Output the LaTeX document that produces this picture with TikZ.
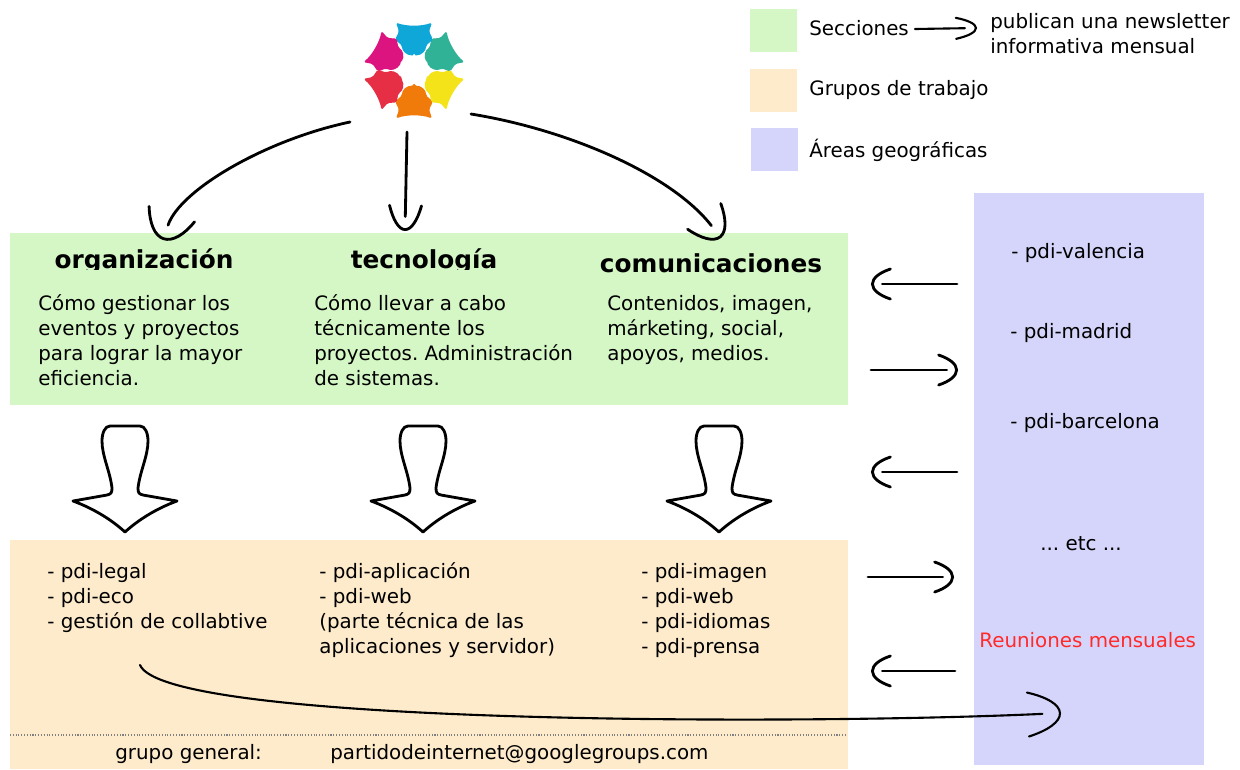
\documentclass[tikz,border=0pt]{standalone}
\usepackage{fontspec}
\setmainfont{DejaVu Sans}
\frenchspacing
\usetikzlibrary{arrows.meta}
\definecolor{seccion}{HTML}{D4F7C5}
\definecolor{grupo}{HTML}{FDEBCB}
\definecolor{area}{HTML}{D5D5FB}
\definecolor{reunion}{HTML}{FF2A2A}
\pgfdeclarearrow{
	name=Punta,
	parameters={\the\pgfarrowlength,\the\pgfarrowwidth,\the\pgfarrowlinewidth},
	setup code={
		\pgfarrowssettipend{0.5\pgfarrowlinewidth}
		\pgfarrowssetlineend{-0.55\pgfarrowlength}
		\pgfarrowssetbackend{-\pgfarrowlength}
		\pgfarrowssavethe\pgfarrowlength
		\pgfarrowssavethe\pgfarrowwidth
		\pgfarrowssavethe\pgfarrowlinewidth
	},
	drawing code={
		\pgfsetlinewidth{\pgfarrowlinewidth}
		\pgfsetdash{}{0pt}
		\pgfsetroundcap
		\pgfpathmoveto{\pgfqpoint{-\pgfarrowlength}{0.5\pgfarrowwidth}}
		\pgfpathcurveto{\pgfqpoint{-0.4\pgfarrowlength}{0.38\pgfarrowwidth}}{\pgfqpoint{0pt}{0.2\pgfarrowwidth}}{\pgfqpoint{0pt}{0pt}}
		\pgfpathcurveto{\pgfqpoint{0pt}{-0.2\pgfarrowwidth}}{\pgfqpoint{-0.4\pgfarrowlength}{-0.38\pgfarrowwidth}}{\pgfqpoint{-\pgfarrowlength}{-0.5\pgfarrowwidth}}
		\pgfusepathqstroke
	},
	defaults={length=10pt,width=17pt,line width=0pt 1 1}
}
\begin{document}
\begin{tikzpicture}[x=0.02cm,y=-0.02cm,
				panel/.style={inner sep=0pt,minimum width=#1},
				txt/.style={anchor=west,inner sep=0pt,align=left,font=\fontsize{11.3}{14.2}\selectfont},
				titulo/.style={anchor=base,inner sep=0pt,font=\fontsize{14.1}{16}\selectfont\bfseries},
				flecha/.style 2 args={line width=1.6pt,line cap=round,-{Punta[length=#2*0.569pt,width=#1*0.569pt]}}]
\useasboundingbox (0,0) rectangle (1240,769);
\node[panel=16.76cm,minimum height=3.44cm,fill=seccion] (secciones) at (429,319) {};
\node[panel=16.76cm,minimum height=4.58cm,fill=grupo] (grupos) at (429,654.5) {};
\node[panel=4.6cm,minimum height=11.44cm,fill=area] (areas) at (1089,479) {};
\node[panel=0.94cm,minimum height=0.86cm,fill=seccion] (leysec) at (773.5,30.5) {};
\node[panel=0.94cm,minimum height=0.86cm,fill=grupo] (leygru) at (773.5,90) {};
\node[panel=0.94cm,minimum height=0.86cm,fill=area] (leyare) at (774.5,149.5) {};
\node[txt] (tsec) at (809,28) {Secciones};
\node[txt] (tgru) at (809,90.5) {Grupos de trabajo};
\node[txt] (tare) at (809,150) {Áreas geográficas};
\node[txt,anchor=north west] (tnews) at (990,13) {publican una newsletter\\informativa mensual};
\foreach \ang/\col in {0/F07A0A,60/F5E31A,120/2FB296,180/0EA7D8,240/DC1480,300/E62F45}{
	\definecolor{fig}{HTML}{\col}
	\fill[fig,rounded corners=1pt,shift={(414,70.5)},rotate=\ang] (0,15) .. controls (8,15) and (12,20) .. (12,25) -- (19,31) -- (15,39) -- (18,48)
		.. controls (8,44) and (-8,44) .. (-18,48) -- (-15,39) -- (-19,31) -- (-12,25) .. controls (-12,20) and (-8,15) .. (0,15) -- cycle;
}
\begin{scope}
\clip (10,233) rectangle (848,269);
\node[titulo] (org) at (144,268) {organización};
\node[titulo] (tec) at (424,268) {tecnología};
\end{scope}
\node[titulo] (com) at (711,272) {comunicaciones};
\node[txt,anchor=north west] (torg) at (38,294) {Cómo gestionar los\\eventos y proyectos\\para lograr la mayor\\eficiencia.};
\node[txt,anchor=north west] (ttec) at (314,294) {Cómo llevar a cabo\\técnicamente los\\proyectos. Administración\\de sistemas.};
\node[txt,anchor=north west] (tcom) at (607,295) {Contenidos, imagen,\\márketing, social,\\apoyos, medios.};
\node[txt,anchor=north west] (lorg) at (47,563) {- pdi-legal\\- pdi-eco\\- gestión de collabtive};
\node[txt,anchor=north west] (ltec) at (319,562) {- pdi-aplicación\\- pdi-web\\(parte técnica de las\\aplicaciones y servidor)};
\node[txt,anchor=north west] (lcom) at (641,563) {- pdi-imagen\\- pdi-web\\- pdi-idiomas\\- pdi-prensa};
\node[txt] (val) at (1011,253.5) {- pdi-valencia};
\node[txt] (mad) at (1010,333) {- pdi-madrid};
\node[txt] (bar) at (1010,423.5) {- pdi-barcelona};
\node[txt,anchor=center] (etc) at (1081,544) {... etc ...};
\node[txt,text=reunion] (reu) at (979,640) {Reuniones mensuales};
\node[txt] (gen) at (115,754) {grupo general:};
\node[txt] (mail) at (330,754) {partidodeinternet@googlegroups.com};
\foreach \cx in {125,423,719}{
	\draw[line width=1.6pt,fill=white,line join=round,shift={(\cx,426)}] (-15,0) -- (15,0) .. controls (20,0) and (23,7) .. (23,15)
		.. controls (23,30) and (15,45) .. (13,62) .. controls (13,67) and (14,68) .. (18,69) -- (52,75)
		.. controls (30,83) and (12,95) .. (0,106) .. controls (-12,95) and (-30,83) .. (-52,75) -- (-18,69)
		.. controls (-14,68) and (-13,67) .. (-13,62) .. controls (-15,45) and (-23,30) .. (-23,15) .. controls (-23,7) and (-20,0) .. (-15,0) -- cycle;
}
\coordinate (logoiz) at (350,122);
\coordinate (logoce) at (407,132);
\coordinate (logode) at (471,114);
\coordinate (llegaiz) at (163,240);
\coordinate (llegace) at (405,231);
\coordinate (llegade) at (721,238);
\draw[flecha={48}{26}] (logoiz) .. controls (265,140) and (180,190) .. (llegaiz);
\draw[flecha={32}{24}] (logoce) -- (llegace);
\draw[flecha={42}{26}] (logode) .. controls (570,130) and (672,175) .. (llegade);
\coordinate (a1) at (957,284);
\coordinate (b1) at (871,284);
\coordinate (a2) at (871,370);
\coordinate (b2) at (958,370);
\coordinate (a3) at (957,472);
\coordinate (b3) at (871,472);
\coordinate (a4) at (868,577);
\coordinate (b4) at (954,577);
\coordinate (a5) at (955,671);
\coordinate (b5) at (871,671);
\foreach \i in {1,...,5}{
	\draw[flecha={30}{18}] (a\i) -- (b\i);
}
\coordinate (leyini) at (915,29);
\coordinate (leyfin) at (977,28);
\draw[flecha={21}{20},line width=1.2pt] (leyini) -- (leyfin);
\coordinate (cini) at (140,665);
\coordinate (cfin) at (1061,713);
\draw[flecha={44}{32},line width=1.2pt] (cini) .. controls (165,725) and (800,725) .. (cfin);
\coordinate (pini) at (10,735);
\coordinate (pfin) at (845,735);
\draw[gray,densely dotted,line width=0.6pt] (pini) -- (pfin);
\end{tikzpicture}
\end{document}
